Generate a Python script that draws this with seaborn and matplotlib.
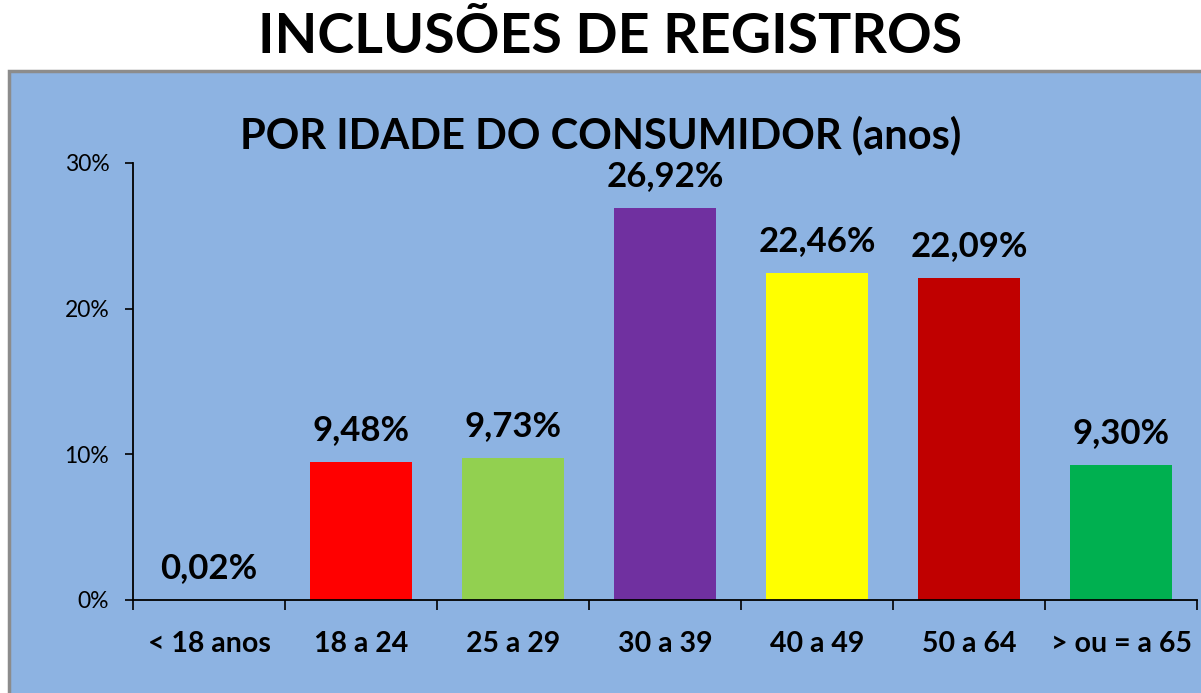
import matplotlib
matplotlib.use('Agg')

import pandas as pd
import seaborn as sns
import matplotlib.pyplot as plt
from matplotlib.patches import Rectangle

# data
faixas = ['< 18 anos', '18 a 24', '25 a 29', '30 a 39', '40 a 49', '50 a 64', '> ou = a 65']
percentuais = [0.02, 9.48, 9.73, 26.92, 22.46, 22.09, 9.30]
cores = ['#4F81BD', '#FF0000', '#92D050', '#7030A0', '#FFFF00', '#C00000', '#00B050']
yticks = [0, 10, 20, 30]

sns.set_style("white")
plt.rcParams['font.family'] = ['Lato', 'DejaVu Sans']
plt.rcParams['text.color'] = 'black'
plt.rcParams['xtick.color'] = 'black'
plt.rcParams['ytick.color'] = 'black'

df = pd.DataFrame({'faixa': faixas, 'pct': percentuais})

fig = plt.figure(figsize=(12.01, 6.93), dpi=100)
fig.patch.set_facecolor('white')

# blue chart panel, behind the axes
fig.patches.append(Rectangle((0.0075, -0.02), 1.1, 0.9175, transform=fig.transFigure,
                             facecolor='#8DB3E2', edgecolor='#8C8C8C', linewidth=2.5, zorder=-5))

ax = fig.add_axes([0.1107, 0.1342, 0.8860, 0.6306])
ax.patch.set_alpha(0)

sns.barplot(data=df, x='faixa', y='pct', hue='faixa', palette=cores, legend=False,
            width=0.67, saturation=1, linewidth=0, edgecolor='none', ax=ax)

ax.set_xlim(-0.5, 6.5)
ax.set_ylim(0, 30)
ax.set_yticks(yticks)
ax.set_yticklabels([str(v) + '%' for v in yticks], fontsize=16.5)
ax.set_xticks(range(len(faixas)))
ax.set_xticklabels(faixas, fontsize=20.5, fontweight='bold')
ax.set_xticks([i - 0.5 for i in range(len(faixas) + 1)], minor=True)
ax.tick_params(axis='x', which='major', bottom=True, length=0, pad=22)
ax.tick_params(axis='x', which='minor', bottom=True, length=7, width=1.2, color='black', direction='out')
ax.tick_params(axis='y', left=True, length=6, width=1.2, color='black', direction='out', pad=11)
ax.set_xlabel('')
ax.set_ylabel('')

for s in ['top', 'right']:
    ax.spines[s].set_visible(False)
for s in ['left', 'bottom']:
    ax.spines[s].set_color('black')
    ax.spines[s].set_linewidth(1.3)

for i, v in enumerate(percentuais):
    ax.annotate(('%.2f%%' % v).replace('.', ','), (i, v), xytext=(0, 23),
                textcoords='offset points', ha='center', va='center',
                fontsize=25, fontweight='bold')

fig.text(0.508, 0.946, 'INCLUSÕES DE REGISTROS', ha='center', va='center',
         fontsize=40, fontweight='bold')
fig.text(0.5, 0.805, 'POR IDADE DO CONSUMIDOR (anos)', ha='center', va='center',
         fontsize=30, fontweight='bold')

plt.savefig('out.png', dpi=100)
